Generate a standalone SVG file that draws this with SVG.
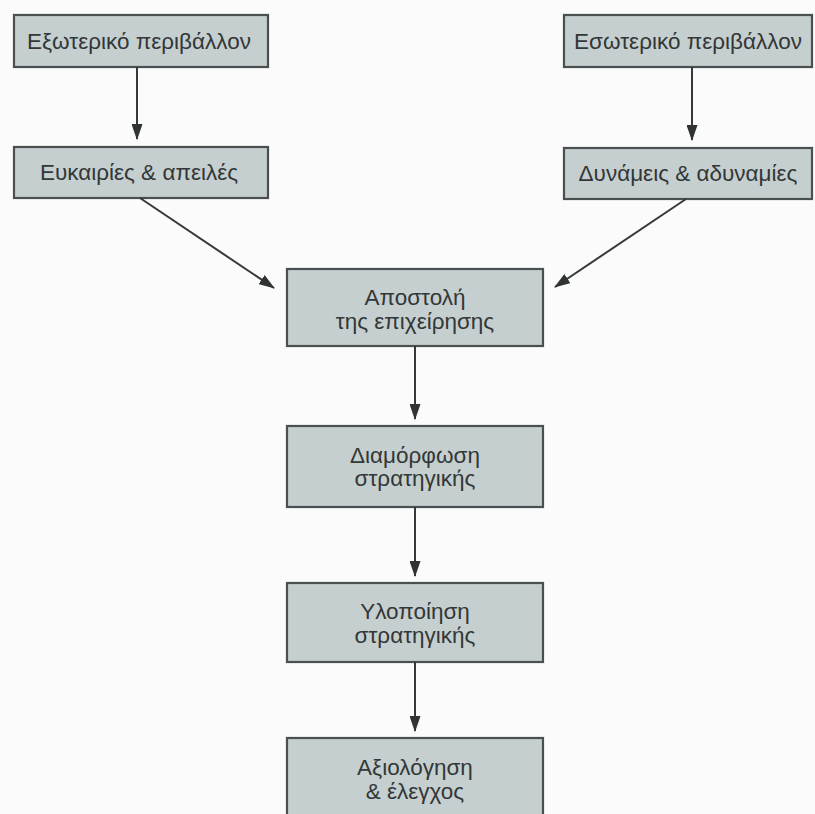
<svg xmlns="http://www.w3.org/2000/svg" width="815" height="814" viewBox="0 0 815 814">
  <defs>
    <marker id="arrow" markerWidth="16" markerHeight="11" refX="15" refY="5.5" orient="auto" markerUnits="userSpaceOnUse">
      <path d="M0,0 L16,5.5 L0,11 Z" fill="#2f3333"/>
    </marker>
  </defs>
  <style>
    .box { fill: #c5cfcf; stroke: #4a4f4f; stroke-width: 2.2; }
    .label { font-family: "Liberation Sans", Arial, sans-serif; font-size: 22.5px; fill: #333737; text-anchor: middle; }
    .edge { stroke: #353939; stroke-width: 2; fill: none; marker-end: url(#arrow); }
  </style>
  <rect width="815" height="814" fill="#fafbfa"/>

  <g id="external-env">
    <rect class="box" x="14" y="15" width="254" height="52"/>
    <text class="label" x="139" y="49">Εξωτερικό περιβάλλον</text>
  </g>
  <g id="internal-env">
    <rect class="box" x="564" y="15" width="248" height="52"/>
    <text class="label" x="688" y="49">Εσωτερικό περιβάλλον</text>
  </g>
  <g id="opportunities-threats">
    <rect class="box" x="14" y="147" width="254" height="51"/>
    <text class="label" x="139" y="180">Ευκαιρίες &amp; απειλές</text>
  </g>
  <g id="strengths-weaknesses">
    <rect class="box" x="564" y="148" width="248" height="51"/>
    <text class="label" x="688" y="181">Δυνάμεις &amp; αδυναμίες</text>
  </g>
  <g id="mission">
    <rect class="box" x="287" y="269" width="256" height="77"/>
    <text class="label" x="415" y="305">Αποστολή</text>
    <text class="label" x="415" y="329">της επιχείρησης</text>
  </g>
  <g id="formulation">
    <rect class="box" x="287" y="426" width="256" height="81"/>
    <text class="label" x="415" y="463">Διαμόρφωση</text>
    <text class="label" x="415" y="486">στρατηγικής</text>
  </g>
  <g id="implementation">
    <rect class="box" x="287" y="583" width="256" height="79"/>
    <text class="label" x="415" y="619">Υλοποίηση</text>
    <text class="label" x="415" y="643">στρατηγικής</text>
  </g>
  <g id="evaluation">
    <rect class="box" x="287" y="738" width="256" height="90"/>
    <text class="label" x="415" y="775">Αξιολόγηση</text>
    <text class="label" x="415" y="799">&amp; έλεγχος</text>
  </g>

  <g id="connectors">
    <line class="edge" x1="137" y1="67" x2="137" y2="139"/>
    <line class="edge" x1="692" y1="67" x2="692" y2="140"/>
    <line class="edge" x1="140" y1="198" x2="274" y2="288"/>
    <line class="edge" x1="686" y1="199" x2="555" y2="287"/>
    <line class="edge" x1="415" y1="346" x2="415" y2="419"/>
    <line class="edge" x1="415" y1="507" x2="415" y2="576"/>
    <line class="edge" x1="415" y1="662" x2="415" y2="731"/>
  </g>
</svg>
